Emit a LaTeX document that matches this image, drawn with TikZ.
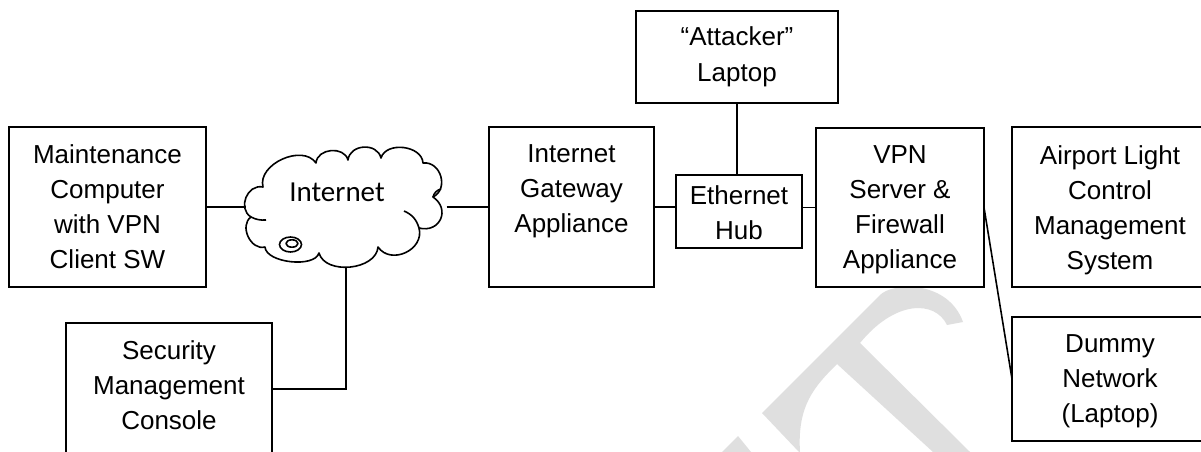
\documentclass[tikz,border=0pt]{standalone}
\usepackage{fontspec}
\setmainfont{Liberation Sans}
\newfontfamily\cloudfont{Carlito}
% box contents: width, height, height of the first line, text (top aligned)
\newcommand{\boxtext}[4]{\parbox[c][#2][t]{#1}{\centering\rule{0pt}{#3}#4}}
\begin{document}
\begin{tikzpicture}[x=1pt,y=1pt,
  box/.style={draw, line width=1.7pt, fill=white, inner sep=0pt, outer sep=0pt,
              anchor=north west, font=\fontsize{26}{35}\selectfont},
  link/.style={line width=1.6pt},
  cloudline/.style={line width=1.6pt, line join=round},
  wmark/.style={fill=gray!25, draw=none}]
\path[use as bounding box] (0,0) rectangle (1201,-452);
\clip (0,0) rectangle (1201,-452);
\fill[white] (0,0) rectangle (1201,-452);

% faint watermark letters
\path[wmark] (799,-452) -- (762,-413) -- (880,-295)
  .. controls (893,-282) and (948,-280) .. (963,-322)
  -- (947,-325)
  .. controls (935,-300) and (895,-300) .. (860,-343)
  -- (970,-452) -- (933,-452) -- (837,-364)
  .. controls (815,-386) and (797,-405) .. (800,-452) -- cycle;
\path[wmark] (722,-452) -- (738,-436) -- (751,-452) -- cycle;

% devices
\node[box] (maint) at (9,-127) {\boxtext{197pt}{160pt}{36pt}{Maintenance\\Computer\\with VPN\\Client SW}};
\node[box] (sec) at (66,-323) {\boxtext{206pt}{132pt}{36pt}{Security\\Management\\Console}};
\node[box] (gw) at (489,-127) {\boxtext{165pt}{160pt}{35pt}{Internet\\Gateway\\Appliance}};
\node[box] (att) at (636,-11) {\boxtext{202pt}{92pt}{35pt}{“Attacker”\\Laptop}};
\node[box] (hub) at (676,-175) {\boxtext{126pt}{73pt}{29pt}{Ethernet\\Hub}};
\node[box] (vpn) at (816,-128) {\boxtext{168pt}{159pt}{35pt}{VPN\\Server \&\\Firewall\\Appliance}};
\node[box] (air) at (1012,-127) {\boxtext{196pt}{160pt}{37pt}{Airport Light\\Control\\Management\\System}};
\node[box] (dummy) at (1012,-317) {\boxtext{196pt}{124pt}{35pt}{Dummy\\Network\\(Laptop)}};

% the Internet cloud
\node[inner sep=0pt, outer sep=0pt, minimum width=201pt, minimum height=120pt] (inet) at (346,-207) {};
\draw[cloudline, fill=white]
  (263,-187) to[bend left=80, looseness=1.04] (316,-163)
             to[bend left=80, looseness=1.18] (348,-160)
             to[bend left=80, looseness=1.25] (381,-158)
             to[bend left=80, looseness=1.07] (423,-163)
             to[bend left=80, looseness=1.30] (433,-197)
             to[bend left=80, looseness=1.63] (419,-228)
             to[bend left=80, looseness=1.28] (378,-247)
             to[bend left=80, looseness=1.00] (319,-253)
             to[bend left=80, looseness=0.75] (265,-247)
             to[bend left=80, looseness=1.14] (251,-217)
             to[bend left=80, looseness=1.28] (263,-187) -- cycle;
\draw[cloudline] (419,-228) to[bend right=25] (404,-211);
\draw[cloudline] (433,-197) to[bend left=30] (441,-189);
\draw[cloudline] (251,-217) to[bend right=15] (266,-220);
\draw[cloudline, fill=white] (290.5,-244.5) ellipse (11 and 7.5);
\draw[cloudline] (292,-243.5) ellipse (6 and 3.7);
\node[font=\cloudfont\fontsize{29}{32}\selectfont] (inettxt) at (337,-192) {Internet};

% connections
\draw[link] (maint.east) -- (inet.west);
\draw[link] (inet.east) -- (gw.west);
\draw[link] (inet.south) |- (sec.east);
\draw[link] (gw.east) -- (gw.east -| hub.west);
\draw[link] (vpn.west -| hub.east) -- (vpn.west);
\draw[link] (att.south) -- (att.south |- hub.north);
\draw[link] (vpn.east) -- (dummy.west);
\end{tikzpicture}
\end{document}
